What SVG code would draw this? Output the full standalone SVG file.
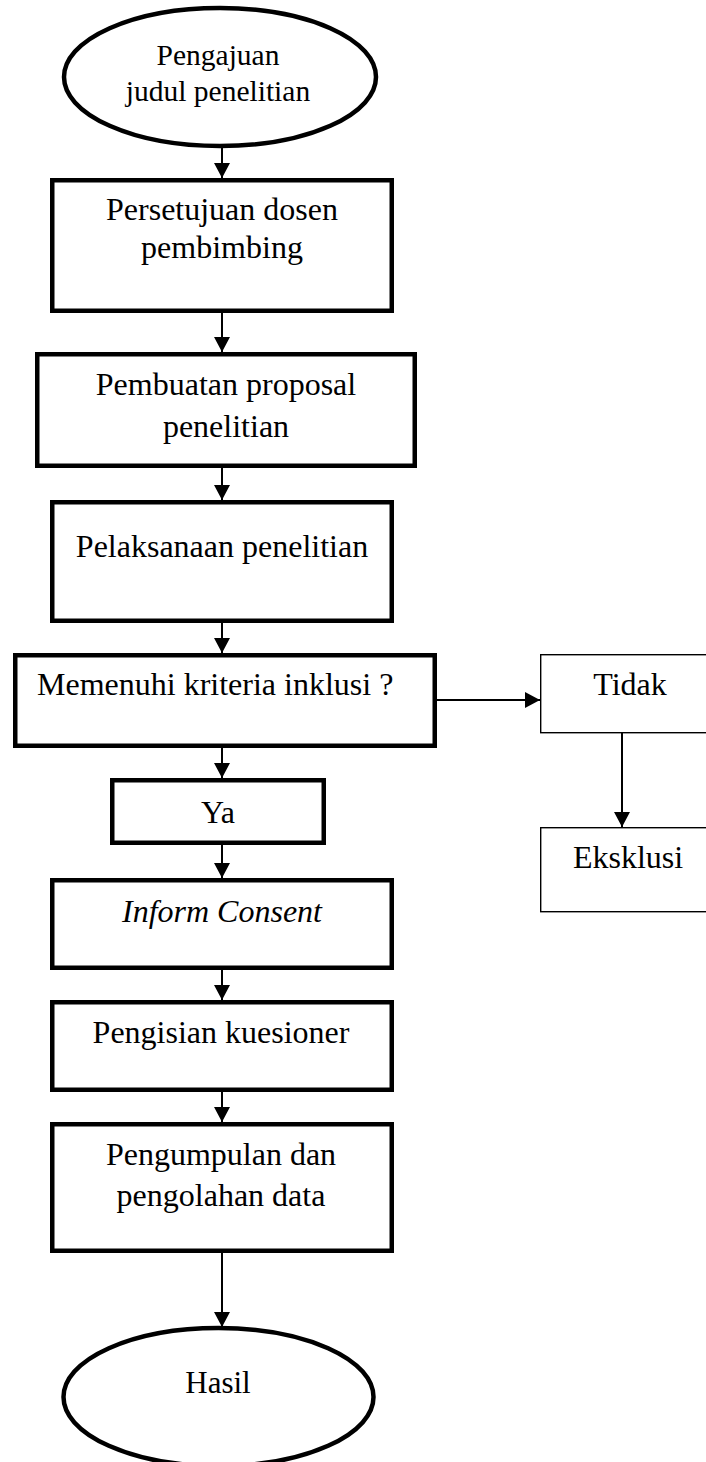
<svg xmlns="http://www.w3.org/2000/svg" width="706" height="1462" viewBox="0 0 706 1462">
<defs>
<marker id="arr" markerUnits="userSpaceOnUse" markerWidth="16" markerHeight="16" refX="15" refY="8" orient="auto">
<path d="M0,0 L15,8 L0,16 z" fill="#000"/>
</marker>
</defs>
<style>
.thick{fill:#fff;stroke:#000;stroke-width:4.5}
.thin{fill:#fff;stroke:#000;stroke-width:1.4}
.ell{fill:#fff;stroke:#000;stroke-width:4.5}
.t{font-family:"Liberation Serif","Times New Roman",serif;font-size:32px;fill:#000;text-anchor:middle}
.conn{stroke:#000;stroke-width:2;fill:none;marker-end:url(#arr)}
</style>
<rect width="706" height="1462" fill="#fff"/>
<g id="connectors">
<line class="conn" x1="222" y1="147" x2="222" y2="178"/>
<line class="conn" x1="222" y1="313" x2="222" y2="352"/>
<line class="conn" x1="222" y1="468" x2="222" y2="500"/>
<line class="conn" x1="222" y1="623" x2="222" y2="653"/>
<line class="conn" x1="222" y1="748" x2="222" y2="778"/>
<line class="conn" x1="222" y1="845" x2="222" y2="878"/>
<line class="conn" x1="222" y1="970" x2="222" y2="1000"/>
<line class="conn" x1="222" y1="1092" x2="222" y2="1122"/>
<line class="conn" x1="222" y1="1253" x2="222" y2="1327"/>
<line class="conn" x1="437" y1="700" x2="540" y2="700"/>
<line class="conn" x1="622" y1="733" x2="622" y2="827"/>
</g>
<g id="n-start">
<ellipse class="ell" cx="220" cy="77" rx="156" ry="69"/>
<text class="t" x="218" y="65" style="font-size:29.5px">Pengajuan</text>
<text class="t" x="218" y="101" style="font-size:29.5px">judul penelitian</text>
</g>
<g id="n-persetujuan">
<rect class="thick" x="52.25" y="180.25" width="339.5" height="130.5"/>
<text class="t" x="222" y="220">Persetujuan dosen</text>
<text class="t" x="222" y="258">pembimbing</text>
</g>
<g id="n-pembuatan">
<rect class="thick" x="37.25" y="354.25" width="377.5" height="111.5"/>
<text class="t" x="226" y="395">Pembuatan proposal</text>
<text class="t" x="226" y="437">penelitian</text>
</g>
<g id="n-pelaksanaan">
<rect class="thick" x="52.25" y="502.25" width="339.5" height="118.5"/>
<text class="t" x="222" y="557">Pelaksanaan penelitian</text>
</g>
<g id="n-memenuhi">
<rect class="thick" x="15.25" y="655.25" width="419.5" height="90.5"/>
<text class="t" x="37" y="695" style="text-anchor:start">Memenuhi kriteria inklusi ?</text>
</g>
<g id="n-ya">
<rect class="thick" x="112.25" y="780.25" width="211.5" height="62.5"/>
<text class="t" x="218" y="823">Ya</text>
</g>
<g id="n-inform">
<rect class="thick" x="52.25" y="880.25" width="339.5" height="87.5"/>
<text class="t" x="222" y="922" style="font-style:italic">Inform Consent</text>
</g>
<g id="n-pengisian">
<rect class="thick" x="52.25" y="1002.25" width="339.5" height="87.5"/>
<text class="t" x="221" y="1043">Pengisian kuesioner</text>
</g>
<g id="n-pengumpulan">
<rect class="thick" x="52.25" y="1124.25" width="339.5" height="126.5"/>
<text class="t" x="221" y="1165">Pengumpulan dan</text>
<text class="t" x="221" y="1206">pengolahan data</text>
</g>
<g id="n-hasil">
<ellipse class="ell" cx="218.5" cy="1397" rx="155" ry="69"/>
<text class="t" x="218" y="1393" style="font-size:31px">Hasil</text>
</g>
<g id="n-tidak">
<rect class="thin" x="540.7" y="654.7" width="180" height="78"/>
<text class="t" x="630" y="695">Tidak</text>
</g>
<g id="n-eksklusi">
<rect class="thin" x="540.7" y="827.7" width="180" height="84"/>
<text class="t" x="628" y="868">Eksklusi</text>
</g>
</svg>
